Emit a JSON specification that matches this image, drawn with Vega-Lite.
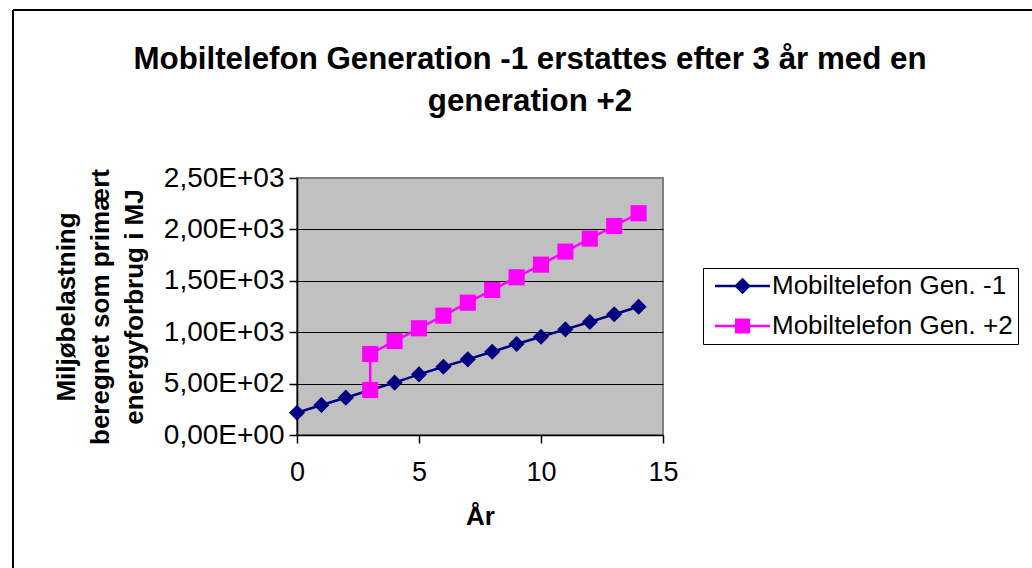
{
  "$schema": "https://vega.github.io/schema/vega-lite/v6.json",
  "width": 366,
  "height": 257,
  "autosize": "none",
  "padding": {"left": 297, "top": 178, "right": 369, "bottom": 133},
  "background": "white",
  "title": {
    "text": ["Mobiltelefon Generation -1 erstattes efter 3 år med en", "generation +2"],
    "fontSize": 31.3,
    "font": "Liberation Sans",
    "fontWeight": "bold",
    "color": "black",
    "lineHeight": 42,
    "anchor": "middle",
    "frame": "group",
    "dx": 50,
    "offset": -108
  },
  "config": {
    "view": {"fill": "#C0C0C0", "stroke": "#808080", "strokeWidth": 2},
    "font": "Liberation Sans",
    "axis": {
      "labelFont": "Liberation Sans",
      "labelFontSize": 27,
      "labelColor": "black",
      "tickColor": "black",
      "domainColor": "black",
      "domainWidth": 1.5,
      "tickSize": 8,
      "tickWidth": 1.5,
      "titleFont": "Liberation Sans",
      "titleFontSize": 26,
      "titleFontWeight": "bold",
      "titleColor": "black"
    },
    "legend": {
      "labelFont": "Liberation Sans",
      "labelFontSize": 26,
      "labelColor": "black"
    }
  },
  "data": {
    "values": [
      {"series": "Mobiltelefon Gen. -1", "i": 0, "year": 0, "value": 217},
      {"series": "Mobiltelefon Gen. -1", "i": 1, "year": 1, "value": 292},
      {"series": "Mobiltelefon Gen. -1", "i": 2, "year": 2, "value": 363},
      {"series": "Mobiltelefon Gen. -1", "i": 3, "year": 3, "value": 438},
      {"series": "Mobiltelefon Gen. -1", "i": 4, "year": 4, "value": 509},
      {"series": "Mobiltelefon Gen. -1", "i": 5, "year": 5, "value": 590},
      {"series": "Mobiltelefon Gen. -1", "i": 6, "year": 6, "value": 664},
      {"series": "Mobiltelefon Gen. -1", "i": 7, "year": 7, "value": 736},
      {"series": "Mobiltelefon Gen. -1", "i": 8, "year": 8, "value": 810},
      {"series": "Mobiltelefon Gen. -1", "i": 9, "year": 9, "value": 885},
      {"series": "Mobiltelefon Gen. -1", "i": 10, "year": 10, "value": 956},
      {"series": "Mobiltelefon Gen. -1", "i": 11, "year": 11, "value": 1028},
      {"series": "Mobiltelefon Gen. -1", "i": 12, "year": 12, "value": 1099},
      {"series": "Mobiltelefon Gen. -1", "i": 13, "year": 13, "value": 1174},
      {"series": "Mobiltelefon Gen. -1", "i": 14, "year": 14, "value": 1248},
      {"series": "Mobiltelefon Gen. +2", "i": 0, "year": 3, "value": 438},
      {"series": "Mobiltelefon Gen. +2", "i": 1, "year": 3, "value": 788},
      {"series": "Mobiltelefon Gen. +2", "i": 2, "year": 4, "value": 914},
      {"series": "Mobiltelefon Gen. +2", "i": 3, "year": 5, "value": 1038},
      {"series": "Mobiltelefon Gen. +2", "i": 4, "year": 6, "value": 1161},
      {"series": "Mobiltelefon Gen. +2", "i": 5, "year": 7, "value": 1287},
      {"series": "Mobiltelefon Gen. +2", "i": 6, "year": 8, "value": 1411},
      {"series": "Mobiltelefon Gen. +2", "i": 7, "year": 9, "value": 1534},
      {"series": "Mobiltelefon Gen. +2", "i": 8, "year": 10, "value": 1657},
      {"series": "Mobiltelefon Gen. +2", "i": 9, "year": 11, "value": 1784},
      {"series": "Mobiltelefon Gen. +2", "i": 10, "year": 12, "value": 1910},
      {"series": "Mobiltelefon Gen. +2", "i": 11, "year": 13, "value": 2033},
      {"series": "Mobiltelefon Gen. +2", "i": 12, "year": 14, "value": 2157}
    ]
  },
  "layer": [
    {
      "data": {"values": [{}]},
      "mark": {"type": "rule", "color": "black", "strokeWidth": 2},
      "encoding": {
        "x": {"datum": -11.64},
        "y": {"datum": -1420},
        "y2": {"datum": 4134}
      }
    },
    {
      "data": {"values": [{}]},
      "mark": {"type": "rule", "color": "black", "strokeWidth": 2},
      "encoding": {
        "y": {"datum": 4134},
        "x": {"datum": -11.64},
        "x2": {"datum": 31}
      }
    },
    {
      "transform": [{"filter": "datum.series == 'Mobiltelefon Gen. -1'"}],
      "mark": {"type": "line", "strokeWidth": 2.5, "color": "#000080"},
      "encoding": {
        "x": {
          "field": "year", "type": "quantitative",
          "scale": {"domain": [0, 15], "nice": false, "zero": false},
          "axis": {
            "values": [0, 5, 10, 15],
            "grid": false,
            "title": "År",
            "labelFlush": false,
            "labelPadding": 16,
            "titlePadding": 18
          }
        },
        "y": {
          "field": "value", "type": "quantitative",
          "scale": {"domain": [0, 2500], "nice": false, "zero": false},
          "axis": {
            "values": [0, 500, 1000, 1500, 2000, 2500],
            "grid": true,
            "gridColor": {"condition": {"test": "datum.value == 0 || datum.value == 2500", "value": "transparent"}, "value": "black"},
            "gridWidth": 1,
            "labelFlush": false,
            "labelFontSize": 28,
            "labelExpr": "datum.value == 0 ? '0,00E+00' : datum.value < 1000 ? replace(format(datum.value/100, '.2f'), '.', ',') + 'E+02' : replace(format(datum.value/1000, '.2f'), '.', ',') + 'E+03'",
            "labelPadding": 5,
            "title": ["Miljøbelastning", "beregnet som primært", "energyforbrug i MJ"],
            "titleLineHeight": 34,
            "titlePadding": 16
          }
        },
        "order": {"field": "i", "type": "quantitative"}
      }
    },
    {
      "transform": [{"filter": "datum.series == 'Mobiltelefon Gen. +2'"}],
      "mark": {"type": "line", "strokeWidth": 2.5, "color": "#FF00FF"},
      "encoding": {
        "x": {"field": "year", "type": "quantitative"},
        "y": {"field": "value", "type": "quantitative"},
        "order": {"field": "i", "type": "quantitative"}
      }
    },
    {
      "transform": [{"filter": "datum.series == 'Mobiltelefon Gen. -1'"}],
      "mark": {"type": "point", "shape": "diamond", "filled": true, "size": 260, "opacity": 1, "color": "#000080"},
      "encoding": {
        "x": {"field": "year", "type": "quantitative"},
        "y": {"field": "value", "type": "quantitative"}
      }
    },
    {
      "transform": [{"filter": "datum.series == 'Mobiltelefon Gen. +2'"}],
      "mark": {"type": "point", "shape": "square", "filled": true, "size": 260, "opacity": 1, "color": "#FF00FF"},
      "encoding": {
        "x": {"field": "year", "type": "quantitative"},
        "y": {"field": "value", "type": "quantitative"}
      }
    },
    {
      "mark": {"type": "point", "strokeWidth": 2.5, "opacity": 0},
      "encoding": {
        "x": {"field": "year", "type": "quantitative"},
        "y": {"field": "value", "type": "quantitative"},
        "fill": {
          "field": "series", "type": "nominal",
          "scale": {"domain": ["Mobiltelefon Gen. -1", "Mobiltelefon Gen. +2"], "range": ["#000080", "#FF00FF"]},
          "legend": {
            "title": null, "orient": "none", "legendX": 406, "legendY": 90,
            "strokeColor": "black", "fillColor": "white", "padding": 5,
            "symbolSize": 400, "symbolStrokeWidth": 2.5, "symbolOpacity": 1,
            "labelOffset": 38, "rowPadding": 14, "labelLimit": 400,
            "encode": {"symbols": {"update": {"opacity": {"value": 1}}}}
          }
        },
        "stroke": {
          "field": "series", "type": "nominal",
          "scale": {"domain": ["Mobiltelefon Gen. -1", "Mobiltelefon Gen. +2"], "range": ["#000080", "#FF00FF"]}
        },
        "shape": {
          "field": "series", "type": "nominal",
          "scale": {"domain": ["Mobiltelefon Gen. -1", "Mobiltelefon Gen. +2"], "range": ["M-0.6,0H4.9M2.15,-0.65L2.8,0L2.15,0.65L1.5,0Z", "M-0.6,0H4.9M1.52,-0.63H2.78V0.63H1.52Z"]}
        }
      }
    }
  ]
}
